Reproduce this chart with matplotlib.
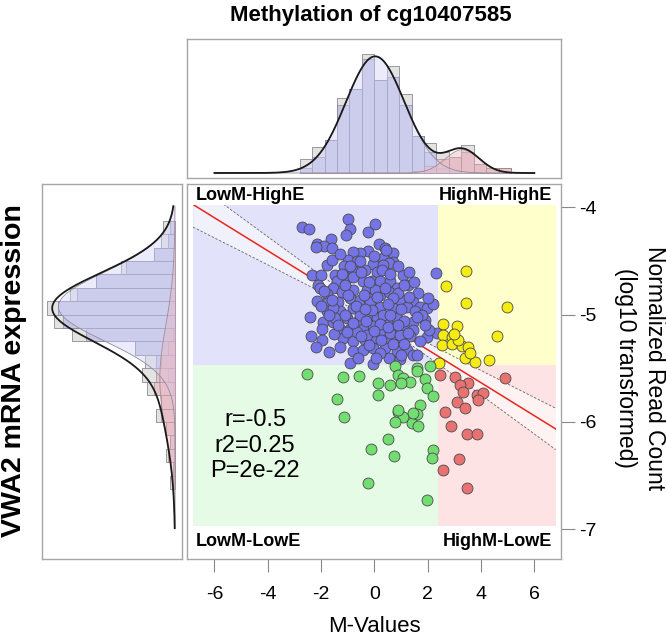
import numpy as np
import matplotlib
matplotlib.use("Agg")
import matplotlib.pyplot as plt
from matplotlib.patches import Rectangle

plt.rcParams['font.family'] = ['Liberation Sans', 'DejaVu Sans']

# ---- scatter data (M-value, log10 expression) ----
blue_pts = [
    (-2.73, -4.18), (-2.44, -4.20), (-1.00, -4.11), (-0.91, -4.20), (-1.08, -4.26),
    (0.03, -4.16), (-0.25, -4.23), (-1.63, -4.30), (-2.14, -4.34), (-1.88, -4.36),
    (-2.19, -4.37), (-1.60, -4.38), (0.18, -4.34), (0.40, -4.38), (-0.23, -4.41),
    (-0.54, -4.43), (-0.79, -4.42), (0.69, -4.43), (-0.98, -4.49), (-0.66, -4.50),
    (0.31, -4.47), (0.68, -4.51), (-0.04, -4.53), (0.53, -4.52), (0.34, -4.54),
    (-1.79, -4.54), (-1.14, -4.55), (-2.35, -4.63), (-2.01, -4.63), (-1.48, -4.63),
    (-1.41, -4.69), (-0.81, -4.59), (-0.35, -4.58), (0.09, -4.60), (1.06, -4.63),
    (1.25, -4.72), (1.65, -4.80), (2.31, -4.61), (-2.13, -4.72), (-2.04, -4.75),
    (-1.54, -4.75), (-1.04, -4.66), (-0.44, -4.69), (-0.10, -4.69), (0.21, -4.69),
    (0.59, -4.69), (0.84, -4.75), (-0.29, -4.77), (-0.79, -4.77), (-1.23, -4.79),
    (-1.79, -4.81), (-2.16, -4.87), (-1.79, -4.89), (-1.35, -4.88), (-0.91, -4.85),
    (-0.54, -4.86), (-0.23, -4.85), (0.21, -4.82), (0.53, -4.79), (0.96, -4.86),
    (1.46, -4.88), (1.71, -4.93), (1.99, -4.94), (2.21, -4.90), (-1.79, -4.97),
    (-1.29, -4.97), (-0.79, -4.94), (-0.48, -4.97), (-0.04, -4.94), (0.21, -4.93),
    (0.71, -4.94), (1.21, -4.93), (1.53, -4.97), (-1.94, -5.07), (-1.54, -5.07),
    (-1.04, -5.03), (-0.66, -5.07), (-0.29, -5.03), (0.09, -5.03), (0.46, -5.07),
    (0.84, -5.03), (1.46, -5.07), (1.90, -5.05), (-1.98, -5.13), (-1.29, -5.13),
    (-0.91, -5.13), (-0.41, -5.13), (-0.04, -5.11), (0.34, -5.14), (0.71, -5.13),
    (1.09, -5.13), (1.46, -5.14), (-2.39, -5.20), (-1.98, -5.24), (-1.16, -5.22),
    (-0.79, -5.25), (-0.35, -5.24), (0.03, -5.22), (0.40, -5.22), (0.84, -5.22),
    (1.34, -5.20), (1.96, -5.21), (2.34, -5.17), (2.03, -5.14), (-0.79, -5.34),
    (-0.41, -5.33), (-0.04, -5.31), (0.40, -5.31), (0.84, -5.34), (1.21, -5.33),
    (1.46, -5.38), (0.53, -5.40), (-0.91, -5.45), (-0.06, -5.46), (0.96, -5.41),
    (-1.54, -4.94), (-1.48, -5.03), (-0.66, -5.16), (-0.29, -5.19), (-1.04, -5.16),
    (0.21, -5.16), (0.59, -5.17), (0.96, -5.19), (-0.54, -5.00), (0.34, -5.00),
    (-0.16, -4.88), (0.03, -4.77), (-1.10, -4.72), (-0.79, -4.65), (-1.60, -4.49),
    (-1.29, -4.44), (-1.20, -4.62), (-0.50, -4.60), (0.30, -4.58), (0.60, -4.62),
    (-0.20, -4.70), (0.40, -4.75), (0.90, -4.80), (1.10, -4.72), (-1.00, -4.82),
    (-0.40, -4.82), (0.10, -4.84), (0.70, -4.85), (1.30, -4.84), (-1.60, -4.86),
    (-0.70, -4.92), (-0.10, -4.96), (0.50, -4.90), (1.00, -4.95), (1.80, -5.00),
    (-1.10, -5.00), (-0.30, -5.06), (0.20, -5.09), (0.60, -5.00), (1.10, -5.06),
    (1.60, -5.02), (-1.70, -5.00), (-0.80, -5.08), (0.00, -5.15), (0.50, -5.12),
    (1.25, -5.17), (-1.50, -5.18), (-0.50, -5.20), (0.25, -5.24), (0.70, -5.27),
    (1.10, -5.27), (1.70, -5.25), (-1.30, -5.30), (-0.20, -5.28), (0.20, -5.36),
    (1.00, -5.38), (-0.60, -5.40), (0.05, -5.40), (-2.00, -4.92), (-2.40, -5.02),
    (-1.90, -4.78), (-0.90, -4.55), (0.00, -4.45), (0.90, -4.55), (1.50, -4.70),
    (2.00, -4.85), (1.90, -5.10), (-2.20, -5.30), (-1.70, -5.35), (1.60, -5.38),
    (-0.35, -4.95), (0.90, -5.10), (-1.35, -5.10), (0.45, -4.40), (-0.55, -4.50),
    (1.30, -4.60),
]
yellow_pts = [
    (3.44, -4.59), (2.69, -4.73), (3.44, -4.89), (4.96, -4.93), (2.56, -5.09),
    (3.09, -5.11), (2.59, -5.19), (2.90, -5.21), (4.59, -5.20), (2.53, -5.28),
    (2.90, -5.27), (3.28, -5.29), (3.53, -5.30), (3.40, -5.40), (3.78, -5.44),
    (4.31, -5.42), (2.44, -5.45), (3.15, -5.24), (3.59, -5.36), (2.99, -5.18),
]
green_pts = [
    (-2.54, -5.55), (-1.16, -5.58), (-0.58, -5.57), (0.78, -5.48), (1.59, -5.50),
    (2.09, -5.48), (1.59, -5.53), (0.90, -5.56), (1.06, -5.59), (1.90, -5.60),
    (0.15, -5.64), (0.59, -5.66), (1.34, -5.63), (1.00, -5.64), (0.15, -5.75),
    (1.96, -5.68), (2.21, -5.76), (-1.41, -5.79), (1.71, -5.84), (-1.13, -5.95),
    (0.88, -5.91), (1.09, -5.95), (0.78, -6.00), (1.40, -6.01), (1.61, -5.93),
    (1.63, -6.04), (0.50, -6.16), (-0.13, -6.25), (2.21, -6.26), (2.15, -6.34),
    (0.74, -6.32), (-0.23, -6.57), (1.96, -6.73), (0.90, -5.89), (1.46, -5.92),
]
red_pts = [
    (2.46, -5.56), (3.03, -5.58), (3.53, -5.64), (3.21, -5.66), (3.34, -5.72),
    (3.84, -5.75), (4.09, -5.73), (4.90, -5.59), (3.09, -5.81), (3.40, -5.87),
    (2.65, -5.91), (3.90, -5.80), (2.86, -6.04), (3.49, -6.11), (3.84, -6.11),
    (3.19, -6.35), (2.59, -6.45), (3.46, -6.62),
]

# quadrant cut-offs and shaded extent
m_cut = 2.4
e_cut = -5.47
shade_x = (-6.8, 6.8)
shade_y = (-6.97, -3.98)

# regression line and confidence band
fit_slope = -0.1537
fit_icpt = -5.02
ci_center = 0.3      # x where the band is narrowest
ci_min = 0.04        # half width there
ci_growth = 0.029    # half width gained per unit of x away from it

# ---- methylation histogram (top) ----
m_bin_start = -2.80
m_bin_width = 0.466
m_all = [6, 11, 14, 32, 36, 51, 40, 46, 34, 16, 13, 9, 7, 12, 4, 2, 2]
m_low = [2, 7, 14, 29, 36, 49, 40, 41, 29, 16, 9, 2, 1, 0, 0, 0, 0]
m_high = [0, 0, 0, 0, 0, 0, 0, 0, 0, 1, 3, 6, 7, 9, 4, 2, 2]
m_comp = {'low': (0.03, 1.1, 50.0), 'high': (3.3, 0.64, 10.0)}  # mean, sd, peak

# ---- expression histogram (left) ----
e_bin_start = -4.125
e_bin_width = 0.125
e_all = [5, 6, 9, 23, 34, 45, 55, 52, 44, 17, 13, 14, 12, 6, 8, 4, 2, 4, 1, 2]
e_high = [2, 3, 9, 21, 34, 42, 50, 48, 38, 17, 8, 3, 1, 0, 0, 0, 0, 0, 0, 0]
e_low = [0, 0, 0, 0, 0, 0, 0, 0, 1, 3, 6, 8, 9, 6, 6, 4, 2, 3, 1, 1]
e_comp = {'high': (-4.925, 0.32, 50.0), 'low': (-5.6, 0.5, 6.5)}

stats_text = "r=-0.5\nr2=0.25\nP=2e-22"


def gauss(v, mu, sd, peak):
    return peak*np.exp(-0.5*((v-mu)/sd)**2)


fig = plt.figure(figsize=(6.66, 6.36), dpi=100)
W, H = 666.0, 636.0
ax = fig.add_axes([186.7/W, 1-559.3/H, 374.3/W, 375/H])
axt = fig.add_axes([186.7/W, 1-178.3/H, 374.3/W, 139/H])
axl = fig.add_axes([42.3/W, 1-559.3/H, 139.4/W, 375/H])

box_col = '#a6a6a6'
for a in (ax, axt, axl):
    for s in a.spines.values():
        s.set_color(box_col)
        s.set_linewidth(1.0)

# ---- main scatter ----
ax.set_xlim(-7.04, 7.0)
ax.set_ylim(-7.28, -3.786)
x0, x1 = shade_x
y0, y1 = shade_y
ax.add_patch(Rectangle((x0, e_cut), m_cut-x0, y1-e_cut, color='#e2e2fa', lw=0, zorder=0))
ax.add_patch(Rectangle((m_cut, e_cut), x1-m_cut, y1-e_cut, color='#ffffcc', lw=0, zorder=0))
ax.add_patch(Rectangle((x0, y0), m_cut-x0, e_cut-y0, color='#e6fbe6', lw=0, zorder=0))
ax.add_patch(Rectangle((m_cut, y0), x1-m_cut, e_cut-y0, color='#fde3e3', lw=0, zorder=0))
clip = Rectangle((x0, y0), x1-x0, y1-y0, transform=ax.transData, fill=False, lw=0)
ax.add_patch(clip)

xs = np.linspace(x0, x1, 200)
fit = fit_slope*xs + fit_icpt
hw = np.sqrt(ci_min**2 + (ci_growth*(xs-ci_center))**2)
band = ax.fill_between(xs, fit-hw, fit+hw, color='white', alpha=0.55, lw=0, zorder=1)
band.set_clip_path(clip)
for yy in (fit-hw, fit+hw):
    l, = ax.plot(xs, yy, ls=(0, (3, 2)), color='#666666', lw=0.6, zorder=1)
    l.set_clip_path(clip)
l, = ax.plot(xs, fit, color='#e8251e', lw=1.1, zorder=1)
l.set_clip_path(clip)

groups = [(blue_pts, '#7474e6'), (yellow_pts, '#f5ec14'),
          (green_pts, '#72de72'), (red_pts, '#e87272')]
for pts, col in groups:
    p = np.array(pts)
    ax.scatter(p[:, 0], p[:, 1], s=62, c=col, edgecolors='#4a4a4a', linewidths=0.6, zorder=3)

qfont = dict(fontsize=13, fontweight='bold', va='center')
ax.text(-6.69, -3.89, 'LowM-HighE', ha='left', **qfont)
ax.text(6.65, -3.89, 'HighM-HighE', ha='right', **qfont)
ax.text(-6.69, -7.11, 'LowM-LowE', ha='left', **qfont)
ax.text(6.65, -7.11, 'HighM-LowE', ha='right', **qfont)
ax.text(-4.48, -6.22, stats_text, ha='center', va='center', fontsize=17, linespacing=1.22)

ax.set_xticks([-6, -4, -2, 0, 2, 4, 6])
ax.set_xticklabels(['-6', '-4', '-2', '0', '2', '4', '6'])
ax.set_yticks([-4, -5, -6, -7])
ax.set_yticklabels(['-4', '-5', '-6', '-7'])
ax.yaxis.tick_right()
ax.tick_params(axis='x', length=9.5, width=0.8, color='#888888', labelsize=14, pad=10)
ax.tick_params(axis='y', length=10, width=0.8, color='#888888', labelsize=14, pad=3)

# ---- top histogram ----
axt.set_xlim(-7.04, 7.0)
axt.set_ylim(-2.27, 57.3)
m_edges = m_bin_start + m_bin_width*np.arange(len(m_all)+1)
axt.bar(m_edges[:-1], m_all, width=m_bin_width, align='edge', color='#e3e3e3',
        edgecolor='#9a9a9a', lw=0.7, zorder=1)
axt.bar(m_edges[:-1], m_low, width=m_bin_width, align='edge', color='#b4b4e4',
        alpha=0.6, edgecolor='#7a7a9a', lw=0.7, zorder=2)
axt.bar(m_edges[:-1], m_high, width=m_bin_width, align='edge', color='#e8b4bc',
        alpha=0.6, edgecolor='#9a7a80', lw=0.7, zorder=2)
mx = np.linspace(-6, 6, 400)
g1 = gauss(mx, *m_comp['low'])
g2 = gauss(mx, *m_comp['high'])
axt.fill_between(mx, 0, g1, color='#d4d4f8', alpha=0.45, lw=0, zorder=3)
axt.fill_between(mx, 0, g2, color='#e8b8c4', alpha=0.45, lw=0, zorder=3)
axt.plot(mx, g1, color='#8c8ca0', lw=0.6, zorder=4)
axt.plot(mx, g2, color='#a08c90', lw=0.6, zorder=4)
axt.plot(mx, g1+g2, color='#1a1a1a', lw=1.3, zorder=5)
axt.set_xticks([])
axt.set_yticks([])

# ---- left histogram ----
axl.set_ylim(-7.28, -3.786)
axl.set_xlim(56.9, -2.87)
e_edges = e_bin_start - e_bin_width*np.arange(len(e_all)+1)
axl.barh(e_edges[1:], e_all, height=e_bin_width, align='edge', color='#e3e3e3',
         edgecolor='#9a9a9a', lw=0.7, zorder=1)
axl.barh(e_edges[1:], e_high, height=e_bin_width, align='edge', color='#b4b4e4',
         alpha=0.6, edgecolor='#7a7a9a', lw=0.7, zorder=2)
axl.barh(e_edges[1:], e_low, height=e_bin_width, align='edge', color='#e8b4bc',
         alpha=0.6, edgecolor='#9a7a80', lw=0.7, zorder=2)
ey = np.linspace(-3.99, -6.99, 400)
h1 = gauss(ey, *e_comp['high'])
h2 = gauss(ey, *e_comp['low'])
axl.fill_betweenx(ey, 0, h1, color='#d4d4f8', alpha=0.45, lw=0, zorder=3)
axl.fill_betweenx(ey, 0, h2, color='#e8b8c4', alpha=0.45, lw=0, zorder=3)
axl.plot(h1, ey, color='#8c8ca0', lw=0.6, zorder=4)
axl.plot(h2, ey, color='#a08c90', lw=0.6, zorder=4)
axl.plot(h1+h2, ey, color='#1a1a1a', lw=1.3, zorder=5)
axl.set_xticks([])
axl.set_yticks([])

# ---- labels ----
fig.text(371/W, 1-15/H, 'Methylation of cg10407585', ha='center', va='center',
         fontsize=16, fontweight='bold')
fig.text(14/W, 1-371/H, 'VWA2 mRNA expression', ha='center', va='center',
         rotation=90, fontsize=20.5, fontweight='bold')
fig.text(374/W, 1-632/H, 'M-Values', ha='center', va='baseline', fontsize=16)
fig.text(655/W, 1-368/H, 'Normalized Read Count', ha='center', va='center',
         rotation=270, fontsize=16.5)
fig.text(625/W, 1-368/H, '(log10 transformed)', ha='center', va='center',
         rotation=270, fontsize=16.5)

fig.savefig('out.png', dpi=100)
